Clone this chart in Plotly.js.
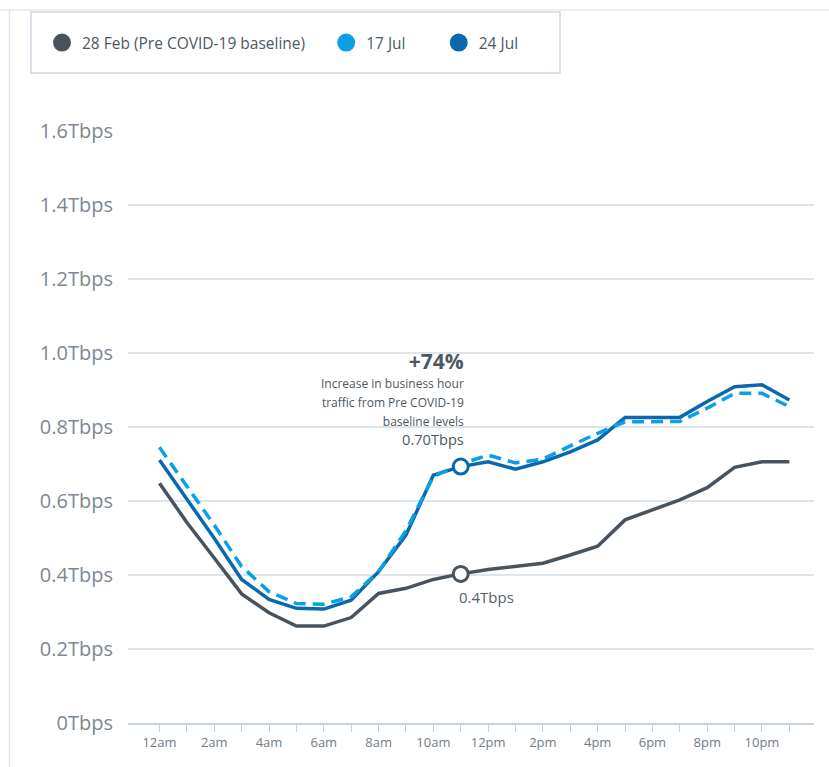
<!DOCTYPE html>
<html>
<head>
<meta charset="utf-8">
<script src="https://cdn.plot.ly/plotly-3.0.1.min.js"></script>
<style>
  html, body { margin: 0; padding: 0; background: #ffffff; }
  #chart { width: 829px; height: 767px; }
</style>
</head>
<body>
<div id="chart"></div>
<script>
// ---- data ----
const hours = ['12am','1am','2am','3am','4am','5am','6am','7am','8am','9am','10am','11am',
               '12pm','1pm','2pm','3pm','4pm','5pm','6pm','7pm','8pm','9pm','10pm','11pm'];
const tickLabels = ['12am','','2am','','4am','','6am','','8am','','10am','',
                    '12pm','','2pm','','4pm','','6pm','','8pm','','10pm',''];
const feb28 = [0.648,0.542,0.446,0.349,0.298,0.262,0.262,0.285,0.350,0.364,0.388,0.403,
               0.415,0.424,0.432,0.454,0.478,0.549,0.576,0.603,0.636,0.691,0.706,0.706];
const jul17 = [0.745,0.639,0.535,0.423,0.355,0.323,0.321,0.341,0.409,0.520,0.666,0.700,
               0.724,0.703,0.713,0.749,0.783,0.814,0.815,0.815,0.851,0.891,0.891,0.855];
const jul24 = [0.711,0.607,0.499,0.388,0.334,0.310,0.308,0.332,0.409,0.508,0.670,0.693,
               0.706,0.686,0.706,0.733,0.765,0.826,0.826,0.826,0.869,0.909,0.914,0.873];
const yTickVals = [0,0.2,0.4,0.6,0.8,1.0,1.2,1.4,1.6];
const yTickText = ['0Tbps','0.2Tbps','0.4Tbps','0.6Tbps','0.8Tbps','1.0Tbps','1.2Tbps','1.4Tbps','1.6Tbps'];
const seriesNames = ['28 Feb (Pre COVID-19 baseline)','17 Jul','24 Jul'];
const highlightIdx = 11;

// ---- styles ----
const cGray = '#48535e', cLight = '#0d9fe6', cDark = '#0a69ae';
const txt = '#4d5862';
const FONT = 'Open Sans, sans-serif';
const pad = n => '\u00a0'.repeat(n);

const traces = [
  {x: hours, y: feb28, mode: 'lines', line: {color: cGray, width: 3.5}, showlegend: false, hoverinfo: 'skip'},
  {x: hours, y: jul24, mode: 'lines', line: {color: cDark, width: 3.5}, showlegend: false, hoverinfo: 'skip'},
  {x: hours, y: jul17, mode: 'lines', line: {color: cLight, width: 3.5, dash: '12px,7px'}, showlegend: false, hoverinfo: 'skip'},
  {x: [hours[highlightIdx]], y: [jul24[highlightIdx]], mode: 'markers', showlegend: false, hoverinfo: 'skip',
   marker: {size: 15, color: '#ffffff', line: {color: cDark, width: 3}}},
  {x: [hours[highlightIdx]], y: [feb28[highlightIdx]], mode: 'markers', showlegend: false, hoverinfo: 'skip',
   marker: {size: 15, color: '#ffffff', line: {color: cGray, width: 3}}},
  // legend entries
  {x: [null], y: [null], mode: 'markers', name: seriesNames[0] + pad(4), marker: {size: 16, color: cGray, line: {color: cGray, width: 2}}},
  {x: [null], y: [null], mode: 'markers', name: seriesNames[1] + pad(7), marker: {size: 16, color: cLight, line: {color: cLight, width: 2}}},
  {x: [null], y: [null], mode: 'markers', name: seriesNames[2], marker: {size: 16, color: cDark, line: {color: cDark, width: 2}}}
];

const L = 128, R = 15, T = 131, B = 44, W = 829, H = 767;
const pw = W - L - R, ph = H - T - B;
const px2x = p => (p - L) / pw;
const py2y = p => (H - B - p) / ph;

const hx = hours[highlightIdx];
const calloutText =
  '<span style="font-size:21px"><b>+74%</b></span><br>' +
  '<span style="font-size:12px">Increase in business hour</span><br>' +
  '<span style="font-size:12px">traffic from Pre COVID-19</span><br>' +
  '<span style="font-size:12px">baseline levels</span><br>' +
  '0.70Tbps';

const annotations = [
  {x: hx, y: jul24[highlightIdx], xref: 'x', yref: 'y', text: calloutText, showarrow: false, align: 'right',
   xanchor: 'right', yanchor: 'bottom', xshift: 5, yshift: 16, font: {family: FONT, size: 14.6, color: txt}},
  {x: hx, y: feb28[highlightIdx], xref: 'x', yref: 'y', text: '0.4Tbps', showarrow: false,
   xanchor: 'left', yanchor: 'middle', xshift: -4, yshift: -23, font: {family: FONT, size: 15, color: '#56616c'}}
];

const shapes = [
  {type: 'line', xref: 'paper', yref: 'paper', x0: px2x(0), x1: px2x(829), y0: py2y(10), y1: py2y(10),
   line: {color: '#eeeeee', width: 2}, layer: 'below'},
  {type: 'line', xref: 'paper', yref: 'paper', x0: px2x(9.5), x1: px2x(9.5), y0: py2y(10), y1: py2y(767),
   line: {color: '#e6e6e6', width: 1.5}, layer: 'below'},
  {type: 'rect', xref: 'paper', yref: 'paper', x0: px2x(31), x1: px2x(560), y0: py2y(12), y1: py2y(73),
   line: {color: '#cdd7e3', width: 1.5}, fillcolor: 'rgba(0,0,0,0)', layer: 'below'}
];

const layout = {
  width: W, height: H,
  margin: {l: L, r: R, t: T, b: B, pad: 0},
  paper_bgcolor: '#ffffff', plot_bgcolor: '#ffffff',
  font: {family: FONT, color: txt},
  showlegend: true,
  legend: {
    orientation: 'h', x: px2x(42), y: py2y(43), xanchor: 'left', yanchor: 'middle',
    font: {family: FONT, size: 15.5, color: txt}, bgcolor: 'rgba(0,0,0,0)', borderwidth: 0,
    itemwidth: 30
  },
  xaxis: {
    type: 'category', range: [-1.15, 23.9], fixedrange: true,
    tickvals: hours, ticktext: tickLabels,
    showgrid: false, zeroline: false,
    showline: true, linecolor: '#c5d1de', linewidth: 1.5,
    ticks: 'outside', ticklen: 7, tickwidth: 1, tickcolor: '#c5d1de',
    tickfont: {family: FONT, size: 13, color: '#717c87'}
  },
  yaxis: {
    range: [0, 1.6], fixedrange: true,
    tickvals: yTickVals, ticktext: yTickText,
    showgrid: true, gridcolor: '#dde4ec', gridwidth: 1.5,
    zeroline: false, showline: false, ticks: '',
    ticklabelstandoff: 14,
    tickfont: {family: FONT, size: 20, color: '#7d8893'}
  },
  annotations: annotations,
  shapes: shapes,
  hovermode: false
};

Plotly.newPlot('chart', traces, layout, {displayModeBar: false, staticPlot: true});
</script>
</body>
</html>
